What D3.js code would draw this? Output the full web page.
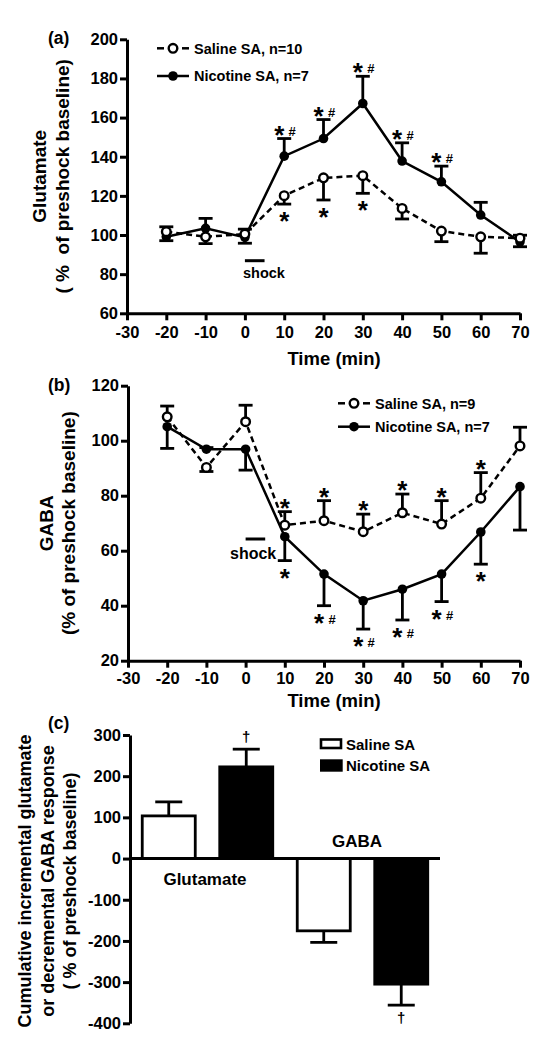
<!DOCTYPE html>
<html><head><meta charset="utf-8">
<script src="https://cdn.jsdelivr.net/npm/d3@7"></script>
<style>
body{margin:0;background:#fff;}
svg text{font-family:"Liberation Sans",Arial,sans-serif;font-weight:bold;fill:#000;white-space:pre;}
</style></head><body>
<svg id="c" width="548" height="1049"></svg>
<script>
// ---------- DATA ----------
const times = [-20,-10,0,10,20,30,40,50,60,70];
const xTicks = [-30,-20,-10,0,10,20,30,40,50,60,70];

// Panel (a) glutamate
const gluTicks = [60,80,100,120,140,160,180,200];
const gluSaline    = [101.7, 99.1,100.5,120.1,129.2,130.3,113.6,102.0, 99.1, 98.4];
const gluSalineErr = [  2.5,  3.5,  2.5,  4.3, 11.3,  9.0,  5.4,  5.4,  8.4,  1.5];
const gluSalineDir = [   1,   -1,    1,   -1,   -1,   -1,   -1,   -1,   -1,    1];
const gluSalineSig = ["","","","*","*","*","","","",""];
const gluNicotine    = [ 99.1,103.4, 98.8,140.3,149.3,167.2,137.8,127.2,110.2, 96.5];
const gluNicotineErr = [  2.0,  5.1,  3.0,  9.0,  9.7, 13.9,  9.3,  8.0,  6.5,  2.5];
const gluNicotineDir = [  -1,    1,   -1,    1,    1,    1,    1,    1,    1,   -1];
const gluNicotineSig = ["","","","*#","*#","*#","*#","*#","",""];

// Panel (b) GABA
const gabaTicks = [20,40,60,80,100,120];
const gabaSaline    = [108.7, 90.3,106.9, 69.3, 70.9, 66.9, 73.8, 69.7, 79.1, 98.1];
const gabaSalineErr = [  3.9,  1.5,  6.0,  4.9,  7.3,  6.4,  6.8,  8.5,  9.3,  6.8];
const gabaSalineDir = [   1,   -1,    1,    1,    1,    1,    1,    1,    1,    1];
const gabaSalineSig = ["","","","*","*","*","*","*","*",""];
const gabaNicotine    = [105.1, 96.9, 96.9, 65.1, 51.5, 41.8, 46.0, 51.5, 66.8, 83.3];
const gabaNicotineErr = [  7.9,  0.6,  7.6,  8.7, 11.5, 10.3, 11.2, 10.0, 11.7, 15.8];
const gabaNicotineDir = [  -1,    1,   -1,   -1,   -1,   -1,   -1,   -1,   -1,   -1];
const gabaNicotineSig = ["","","","*","*#","*#","*#","*#","*",""];

// Panel (c) cumulative
const cumGroups = ["Glutamate","GABA"];
const cumSaline = [103.6,-175.5];
const cumSalineErr = [34,28];
const cumNicotine = [222.6,-304.9];
const cumNicotineErr = [43,51];
const cumNicotineSig = ["†","†"];
const cumTicks = [300,200,100,0,-100,-200,-300,-400];

// ---------- DRAW ----------
const svg = d3.select("#c");
const AX = 3;
const fmt = d => String(d);

function styleAxis(g, fs){
  g.selectAll("path.domain").attr("stroke","#000").attr("stroke-width",AX);
  g.selectAll(".tick line").attr("stroke","#000").attr("stroke-width",AX);
  g.selectAll(".tick text").attr("font-size",fs).attr("fill","#000")
   .style("font-family",'"Liberation Sans",Arial,sans-serif').style("font-weight","bold");
}

function linePanel(o){
  const x = d3.scaleLinear().domain([-30,70]).range(o.xr);
  const y = d3.scaleLinear().domain(o.yd).range(o.yr);
  const gx = svg.append("g").attr("transform",`translate(0,${o.yr[0]})`)
    .call(d3.axisBottom(x).tickValues(xTicks).tickFormat(fmt).tickSize(7).tickPadding(o.xpad).tickSizeOuter(0));
  styleAxis(gx,16.5);
  const gy = svg.append("g").attr("transform",`translate(${o.xr[0]},0)`)
    .call(d3.axisLeft(y).tickValues(o.yticks).tickFormat(fmt).tickSize(7).tickPadding(2).tickSizeOuter(0));
  styleAxis(gy,16.5);

  const line = d3.line().x((d,i)=>x(times[i])).y(d=>y(d));
  function errs(vals, err, dir){
    const g = svg.append("g").attr("stroke","#000").attr("stroke-width",2.8);
    vals.forEach((v,i)=>{
      const e = v + err[i]*dir[i];
      g.append("line").attr("x1",x(times[i])).attr("x2",x(times[i])).attr("y1",y(v)).attr("y2",y(e));
      g.append("line").attr("x1",x(times[i])-7).attr("x2",x(times[i])+7).attr("y1",y(e)).attr("y2",y(e));
    });
  }
  errs(o.sal,o.salErr,o.salDir);
  errs(o.nic,o.nicErr,o.nicDir);
  svg.append("path").attr("d",line(o.nic)).attr("fill","none").attr("stroke","#000").attr("stroke-width",2.5);
  svg.append("path").attr("d",line(o.sal)).attr("fill","none").attr("stroke","#000").attr("stroke-width",2.5).attr("stroke-dasharray","6,4");
  o.nic.forEach((v,i)=>svg.append("circle").attr("cx",x(times[i])).attr("cy",y(v)).attr("r",4.8).attr("fill","#000"));
  o.sal.forEach((v,i)=>svg.append("circle").attr("cx",x(times[i])).attr("cy",y(v)).attr("r",4.3).attr("fill","#fff").attr("stroke","#000").attr("stroke-width",2.4));

  function sig(vals, err, dir, marks){
    vals.forEach((v,i)=>{
      const m = marks[i]; if(!m) return;
      const cap = y(v + err[i]*dir[i]);
      const cx = x(times[i]);
      const center = dir[i] > 0 ? cap - 10 : cap + 11;
      if(m === "*"){
        svg.append("text").attr("x",cx).attr("y",center+15).attr("text-anchor","middle").attr("font-size",26).text("*");
      } else {
        svg.append("text").attr("x",cx-5).attr("y",center+15).attr("text-anchor","middle").attr("font-size",26).text("*");
        svg.append("text").attr("x",cx+8).attr("y",center+7).attr("text-anchor","middle").attr("font-size",13).text("#");
      }
    });
  }
  sig(o.sal,o.salErr,o.salDir,o.salSig);
  sig(o.nic,o.nicErr,o.nicDir,o.nicSig);

  svg.append("line").attr("x1",x(0)).attr("x2",x(5)).attr("y1",o.shockY).attr("y2",o.shockY).attr("stroke","#000").attr("stroke-width",3);
  svg.append("text").attr("x",o.shockTx).attr("y",o.shockTy).attr("font-size",o.shockFs).text("shock");

  const L = o.leg;
  svg.append("line").attr("x1",L.x0).attr("x2",L.x0+7).attr("y1",L.y1).attr("y2",L.y1).attr("stroke","#000").attr("stroke-width",2.5);
  svg.append("line").attr("x1",L.x1-7).attr("x2",L.x1).attr("y1",L.y1).attr("y2",L.y1).attr("stroke","#000").attr("stroke-width",2.5);
  svg.append("circle").attr("cx",(L.x0+L.x1)/2).attr("cy",L.y1).attr("r",4.3).attr("fill","#fff").attr("stroke","#000").attr("stroke-width",2.4);
  svg.append("line").attr("x1",L.x0).attr("x2",L.x1).attr("y1",L.y2).attr("y2",L.y2).attr("stroke","#000").attr("stroke-width",2.5);
  svg.append("circle").attr("cx",(L.x0+L.x1)/2).attr("cy",L.y2).attr("r",4.8).attr("fill","#000");
  svg.append("text").attr("x",L.x1+5).attr("y",L.y1+5.2).attr("font-size",14.5).text(L.t1);
  svg.append("text").attr("x",L.x1+5).attr("y",L.y2+5.2).attr("font-size",14.5).text(L.t2);

  svg.append("text").attr("x",334).attr("y",o.xlabY).attr("text-anchor","middle").attr("font-size",18.5).text("Time (min)");
  const cy = (o.yr[0]+o.yr[1])/2;
  svg.append("text").attr("transform",`translate(${o.yl1},${cy}) rotate(-90)`).attr("text-anchor","middle").attr("font-size",19).text(o.ylab1);
  svg.append("text").attr("transform",`translate(${o.yl2},${cy}) rotate(-90)`).attr("text-anchor","middle").attr("font-size",19).text(o.ylab2);
  svg.append("text").attr("x",48).attr("y",o.panelY).attr("font-size",17.5).text(o.panel);
}

linePanel({
  xr:[127,520], yd:[60,200], yr:[313.3,39.3], yticks:gluTicks, xpad:6,
  sal:gluSaline, salErr:gluSalineErr, salDir:gluSalineDir, salSig:gluSalineSig,
  nic:gluNicotine, nicErr:gluNicotineErr, nicDir:gluNicotineDir, nicSig:gluNicotineSig,
  shockY:260.7, shockTx:243, shockTy:278, shockFs:14.5,
  leg:{x0:157,x1:189,y1:48.3,y2:76,t1:"Saline SA, n=10",t2:"Nicotine SA, n=7"},
  xlabY:365, yl1:46, yl2:69, ylab1:"Glutamate", ylab2:"( %  of preshock baseline)",
  panel:"(a)", panelY:44
});
linePanel({
  xr:[128,520], yd:[20,120], yr:[660.7,385.7], yticks:gabaTicks, xpad:4.5,
  sal:gabaSaline, salErr:gabaSalineErr, salDir:gabaSalineDir, salSig:gabaSalineSig,
  nic:gabaNicotine, nicErr:gabaNicotineErr, nicDir:gabaNicotineDir, nicSig:gabaNicotineSig,
  shockY:539, shockTx:230, shockTy:559, shockFs:16,
  leg:{x0:338,x1:370,y1:403.3,y2:426.7,t1:"Saline SA, n=9",t2:"Nicotine SA, n=7"},
  xlabY:707, yl1:53, yl2:75, ylab1:"GABA", ylab2:"(% of preshock baseline)",
  panel:"(b)", panelY:391
});

(function(){
  const keys = [];
  cumGroups.forEach(g=>{keys.push(g+"|s"); keys.push(g+"|n");});
  const x = d3.scaleBand().domain(keys).range([130,440]).paddingInner(0.316).paddingOuter(0.158);
  const y = d3.scaleLinear().domain([-400,300]).range([1023.3,735]);
  const gy = svg.append("g").attr("transform","translate(130,0)")
    .call(d3.axisLeft(y).tickValues(cumTicks).tickFormat(fmt).tickSize(7).tickPadding(2).tickSizeOuter(0));
  styleAxis(gy,16.5);
  const bars = [];
  cumGroups.forEach((g,i)=>{
    bars.push({k:g+"|s",v:cumSaline[i],e:cumSalineErr[i],fill:"#fff",sig:""});
    bars.push({k:g+"|n",v:cumNicotine[i],e:cumNicotineErr[i],fill:"#000",sig:cumNicotineSig[i]});
  });
  const bw = x.bandwidth();
  bars.forEach(b=>{
    const cx = x(b.k)+bw/2;
    const endV = b.v + (b.v>=0?b.e:-b.e);
    svg.append("line").attr("x1",cx).attr("x2",cx).attr("y1",y(b.v)).attr("y2",y(endV)).attr("stroke","#000").attr("stroke-width",2.8);
    svg.append("line").attr("x1",cx-13.5).attr("x2",cx+13.5).attr("y1",y(endV)).attr("y2",y(endV)).attr("stroke","#000").attr("stroke-width",2.8);
    svg.append("rect").attr("x",x(b.k)).attr("width",bw)
      .attr("y",Math.min(y(b.v),y(0))).attr("height",Math.abs(y(b.v)-y(0)))
      .attr("fill",b.fill).attr("stroke","#000").attr("stroke-width",2.8);
    if(b.sig){
      const ty = b.v>=0 ? y(endV)-7 : y(endV)+18;
      svg.append("text").attr("x",cx).attr("y",ty).attr("text-anchor","middle").attr("font-size",15).text(b.sig);
    }
  });
  svg.append("line").attr("x1",130).attr("x2",440).attr("y1",y(0)).attr("y2",y(0)).attr("stroke","#000").attr("stroke-width",AX);
  svg.append("text").attr("x",205).attr("y",885).attr("text-anchor","middle").attr("font-size",17).text(cumGroups[0]);
  svg.append("text").attr("x",357).attr("y",846.7).attr("text-anchor","middle").attr("font-size",17).text(cumGroups[1]);
  svg.append("rect").attr("x",321).attr("y",739.5).attr("width",20).attr("height",8.5).attr("fill","#fff").attr("stroke","#000").attr("stroke-width",2.6);
  svg.append("rect").attr("x",320).attr("y",759.3).attr("width",22.7).attr("height",12.4).attr("fill","#000");
  svg.append("text").attr("x",346).attr("y",749.5).attr("font-size",15).text("Saline SA");
  svg.append("text").attr("x",346).attr("y",771).attr("font-size",15).text("Nicotine SA");
  const cy = 881;
  [["Cumulative incremental glutamate",31],["or decremental GABA response",54],["( % of preshock baseline)",76]].forEach(([t,xx])=>{
    svg.append("text").attr("transform",`translate(${xx},${cy}) rotate(-90)`).attr("text-anchor","middle").attr("font-size",18).text(t);
  });
  svg.append("text").attr("x",48).attr("y",729).attr("font-size",17.5).text("(c)");
})();
</script>
</body></html>
